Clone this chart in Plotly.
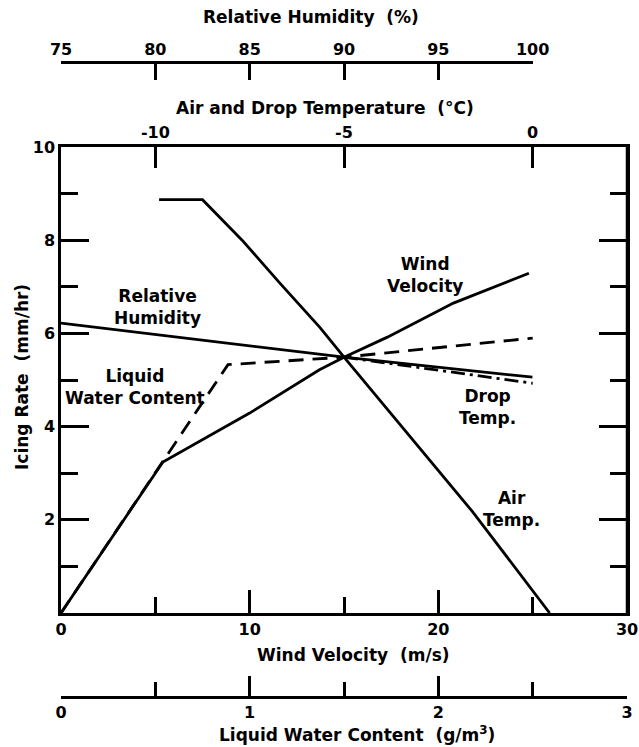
import plotly.graph_objects as go

# ---------------- data ----------------
# Wind velocity curve (x in m/s, y = icing rate mm/hr)
wind_v = [0, 5.4, 10.0, 13.7, 15.0, 17.3, 20.8, 24.8]
wind_rate = [0, 3.24, 4.29, 5.22, 5.49, 5.92, 6.65, 7.29]

# Air temperature curve (x in deg C)
air_t = [-9.9, -8.75, -7.7, -6.7, -5.64, -5.0, -1.6, 0.45]
air_rate = [8.87, 8.87, 8.0, 7.08, 6.13, 5.49, 2.18, 0.0]

# Drop temperature curve (x in deg C)
drop_t = [-5.0, -2.5, 0.0]
drop_rate = [5.49, 5.21, 4.93]

# Relative humidity curve (x in %)
rh = [75, 90, 100]
rh_rate = [6.22, 5.49, 5.06]

# Liquid water content curve (x in g/m^3)
lwc = [0, 0.54, 0.885, 1.5, 2.5]
lwc_rate = [0, 3.24, 5.33, 5.49, 5.9]

# tick labels
wind_ticks = [0, 10, 20, 30]
wind_minor = [5, 15, 25]
temp_ticks = [-10, -5, 0]
temp_text = ["-10", "-5", "0"]
rh_ticks = [75, 80, 85, 90, 95, 100]
lwc_ticks = [0, 1, 2, 3]
lwc_minor = [0.5, 1.5, 2.5]
rate_ticks = [2, 4, 6, 8, 10]
rate_minor = [1, 3, 5, 7, 9]

# ---------------- figure ----------------
FONT = "DejaVu Sans"
LW = 2.8
AX_W = 2.5
tickfont = dict(family=FONT, size=16, color="black", weight="bold")

fig = go.Figure()

fig.add_trace(go.Scatter(x=lwc, y=lwc_rate, xaxis="x4", yaxis="y", mode="lines",
                         line=dict(color="black", width=LW, dash="15px,9px"),
                         name="Liquid Water Content", showlegend=False))
fig.add_trace(go.Scatter(x=drop_t, y=drop_rate, xaxis="x2", yaxis="y", mode="lines",
                         line=dict(color="black", width=LW, dash="14px,5px,3px,5px"),
                         name="Drop Temp.", showlegend=False))
fig.add_trace(go.Scatter(x=rh, y=rh_rate, xaxis="x3", yaxis="y", mode="lines",
                         line=dict(color="black", width=LW),
                         name="Relative Humidity", showlegend=False))
fig.add_trace(go.Scatter(x=wind_v, y=wind_rate, xaxis="x", yaxis="y", mode="lines",
                         line=dict(color="black", width=LW),
                         name="Wind Velocity", showlegend=False))
fig.add_trace(go.Scatter(x=air_t, y=air_rate, xaxis="x2", yaxis="y", mode="lines",
                         line=dict(color="black", width=LW),
                         name="Air Temp.", showlegend=False))

W, H = 639, 747
ML, MR, MT, MB = 61, 12, 40, 30
PW = W - ML - MR
PH = H - MT - MB


def py(p):  # pixel y -> paper y
    return (H - MB - p) / PH


def px(p):  # pixel x -> paper x
    return (p - ML) / PW


common = dict(showgrid=False, zeroline=False, showline=True, linecolor="black",
              linewidth=AX_W, tickcolor="black", tickwidth=AX_W, tickfont=tickfont,
              automargin=False, ticklabeloverflow="allow")

fig.update_layout(
    width=W, height=H,
    margin=dict(l=ML, r=MR, t=MT, b=MB, autoexpand=False),
    paper_bgcolor="white", plot_bgcolor="rgba(0,0,0,0)",
    showlegend=False,
    yaxis=dict(domain=[py(613), py(147)], range=[0, 10], tickvals=rate_ticks,
               ticks="inside", ticklen=28, mirror="ticks",
               minor=dict(tickvals=rate_minor, ticks="inside", ticklen=17,
                          tickwidth=AX_W, tickcolor="black"),
               **common),
    xaxis=dict(domain=[0, 1], range=[0, 30], anchor="y", side="bottom",
               tickvals=wind_ticks, ticks="inside", ticklen=23,
               minor=dict(tickvals=wind_minor, ticks="inside", ticklen=16,
                          tickwidth=AX_W, tickcolor="black"),
               **common),
    xaxis2=dict(overlaying="x", anchor="y", side="top", range=[-12.5, 2.5],
                tickvals=temp_ticks, ticktext=temp_text, ticks="inside", ticklen=21,
                **common),
    xaxis3=dict(domain=[0, 25 / 30], anchor="free", position=py(62), side="top",
                range=[75, 100], tickvals=rh_ticks, ticks="inside", ticklen=16,
                **common),
    xaxis4=dict(overlaying="x", anchor="free", position=py(697), side="bottom",
                range=[0, 3], tickvals=lwc_ticks, ticks="inside", ticklen=20,
                minor=dict(tickvals=lwc_minor, ticks="inside", ticklen=14,
                           tickwidth=AX_W, tickcolor="black"),
                **common),
)

# right-hand frame line of the plot box
fig.add_shape(type="line", xref="paper", yref="y domain", x0=1, x1=1, y0=0, y1=1,
              line=dict(color="black", width=AX_W), layer="above")

title_font = dict(family=FONT, size=17, color="black", weight="bold")
label_font = dict(family=FONT, size=17, color="black", weight="bold")

titles = [
    ("Relative Humidity  (%)", px(311), py(17), 0),
    ("Air and Drop Temperature  (°C)", px(325), py(108), 0),
    ("Wind Velocity  (m/s)", px(353), py(655), 0),
    ("Liquid Water Content  (g/m<sup>3</sup>)", px(357), py(734), 0),
    ("Icing Rate  (mm/hr)", px(22), py(377), -90),
]
for text, x, y, ang in titles:
    fig.add_annotation(text=text, x=x, y=y, xref="paper", yref="paper",
                       xanchor="center", yanchor="middle", showarrow=False,
                       textangle=ang, font=title_font)

labels = [
    ("Relative<br>Humidity", 5.09, 6.56),
    ("Liquid<br>Water Content", 3.92, 4.85),
    ("Wind<br>Velocity", 19.29, 7.25),
    ("Drop<br>Temp.", 22.63, 4.42),
    ("Air<br>Temp.", 23.9, 2.24),
]
for text, x, y in labels:
    fig.add_annotation(text=text, x=x, y=y, xref="x", yref="y",
                       xanchor="center", yanchor="middle", showarrow=False,
                       font=label_font)

# remove the default page margin so the 639x747 figure fills the window exactly
fig.write_html(
    "out.html",
    config={"displayModeBar": False},
    post_script="document.body.style.margin='0';"
                "document.documentElement.style.overflow='hidden';",
)
